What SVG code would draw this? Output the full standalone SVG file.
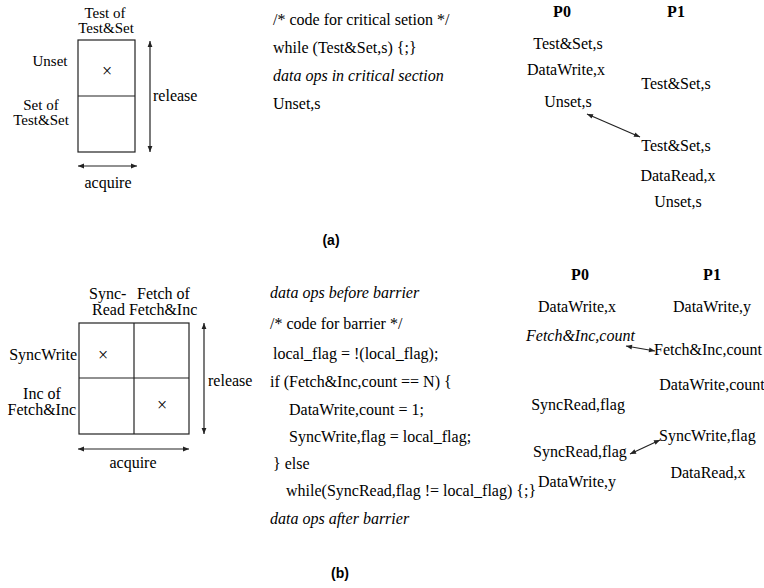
<svg xmlns="http://www.w3.org/2000/svg" width="764" height="588" viewBox="0 0 764 588">
<defs>
<style>
text{font-family:"Liberation Serif","Times New Roman",serif;font-size:16px;fill:#000}
.i{font-style:italic}
.b{font-weight:bold}
.m{text-anchor:middle}
.e{text-anchor:end}
.s{font-size:15px}
.x{font-size:18px;text-anchor:middle}
.cap{font-family:"Liberation Sans",Arial,sans-serif;font-size:14px;font-weight:bold}
.ln{stroke:#222;stroke-width:1.2;fill:none}
.ar{stroke:#222;stroke-width:1.2;fill:none;marker-start:url(#ah);marker-end:url(#ah)}
</style>
<marker id="ah" viewBox="0 0 10 10" refX="10" refY="5" markerWidth="7" markerHeight="6" markerUnits="userSpaceOnUse" orient="auto-start-reverse">
<path d="M0,1 L10,5 L0,9 Z" fill="#222"/>
</marker>
</defs>

<g id="a-matrix">
<text class="m s" x="105" y="18">Test of</text>
<text class="m s" x="106" y="33">Test&amp;Set</text>
<rect class="ln" x="78" y="40" width="57" height="112"/>
<line class="ln" x1="78" y1="96" x2="135" y2="96"/>
<text class="x" x="107" y="77">×</text>
<text class="m s" x="50" y="66">Unset</text>
<text class="m s" x="41" y="110">Set of</text>
<text class="m s" x="41" y="125">Test&amp;Set</text>
</g>
<g id="a-release"><text x="153" y="101">release</text></g>
<g id="a-acquire"><text class="m" x="108" y="188">acquire</text></g>

<g id="a-code">
<text x="273" y="25">/* code for critical setion */</text>
<text x="273" y="53">while (Test&amp;Set,s) {;}</text>
<text class="i" x="273" y="81">data ops in critical section</text>
<text x="273" y="109">Unset,s</text>
</g>

<g id="a-p0">
<text class="b m" x="562" y="17">P0</text>
<text class="m" x="568" y="49">Test&amp;Set,s</text>
<text class="m" x="566" y="75">DataWrite,x</text>
<text class="m" x="568" y="107">Unset,s</text>
</g>
<g id="a-p1">
<text class="b m" x="676" y="17">P1</text>
<text class="m" x="676" y="89">Test&amp;Set,s</text>
<text class="m" x="676" y="151">Test&amp;Set,s</text>
<text class="m" x="678" y="181">DataRead,x</text>
<text class="m" x="678" y="207">Unset,s</text>
</g>
<text class="cap m" x="331" y="245">(a)</text>

<g id="b-matrix">
<text x="89" y="299">Sync-</text>
<text x="137" y="299">Fetch of</text>
<text x="92" y="315">Read Fetch&amp;Inc</text>
<rect class="ln" x="79" y="323" width="110" height="111"/>
<line class="ln" x1="134" y1="323" x2="134" y2="434"/>
<line class="ln" x1="79" y1="378" x2="189" y2="378"/>
<text class="x" x="103" y="361">×</text>
<text class="x" x="162" y="411">×</text>
<text class="e" x="77" y="360">SyncWrite</text>
<text class="m" x="42" y="399">Inc of</text>
<text class="e" x="76" y="415">Fetch&amp;Inc</text>
</g>
<g id="b-release"><text x="208" y="386">release</text></g>
<g id="b-acquire"><text class="m" x="133" y="468">acquire</text></g>

<g id="b-code">
<text class="i" x="270" y="298">data ops before barrier</text>
<text x="270" y="329">/* code for barrier */</text>
<text x="273" y="359">local_flag = !(local_flag);</text>
<text x="270" y="387">if (Fetch&amp;Inc,count == N) {</text>
<text x="289" y="415">DataWrite,count = 1;</text>
<text x="289" y="442">SyncWrite,flag = local_flag;</text>
<text x="273" y="469">} else</text>
<text x="286" y="496">while(SyncRead,flag != local_flag) {;}</text>
<text class="i" x="270" y="524">data ops after barrier</text>
</g>

<g id="b-p0">
<text class="b m" x="580" y="280">P0</text>
<text class="m" x="577" y="312">DataWrite,x</text>
<text class="i" x="526" y="341">Fetch&amp;Inc,count</text>
<text class="m" x="578" y="410">SyncRead,flag</text>
<text x="533" y="457">SyncRead,flag</text>
<text class="m" x="577" y="487">DataWrite,y</text>
</g>
<g id="b-p1">
<text class="b m" x="712" y="280">P1</text>
<text class="m" x="712" y="312">DataWrite,y</text>
<text x="654" y="355">Fetch&amp;Inc,count</text>
<text class="m" x="712" y="390">DataWrite,count</text>
<text x="659" y="441">SyncWrite,flag</text>
<text class="m" x="708" y="478">DataRead,x</text>
</g>
<text class="cap m" x="340" y="578">(b)</text>

<g id="connectors">
<line class="ar" x1="150" y1="41" x2="150" y2="152"/>
<line class="ar" x1="78" y1="166" x2="137" y2="166"/>
<line class="ar" x1="587" y1="114" x2="640" y2="137"/>
<line class="ar" x1="204" y1="323" x2="204" y2="434"/>
<line class="ar" x1="78" y1="449" x2="189" y2="449"/>
<line class="ar" x1="626" y1="346" x2="655" y2="351"/>
<line class="ar" x1="630" y1="454" x2="660" y2="440"/>
</g>
</svg>
